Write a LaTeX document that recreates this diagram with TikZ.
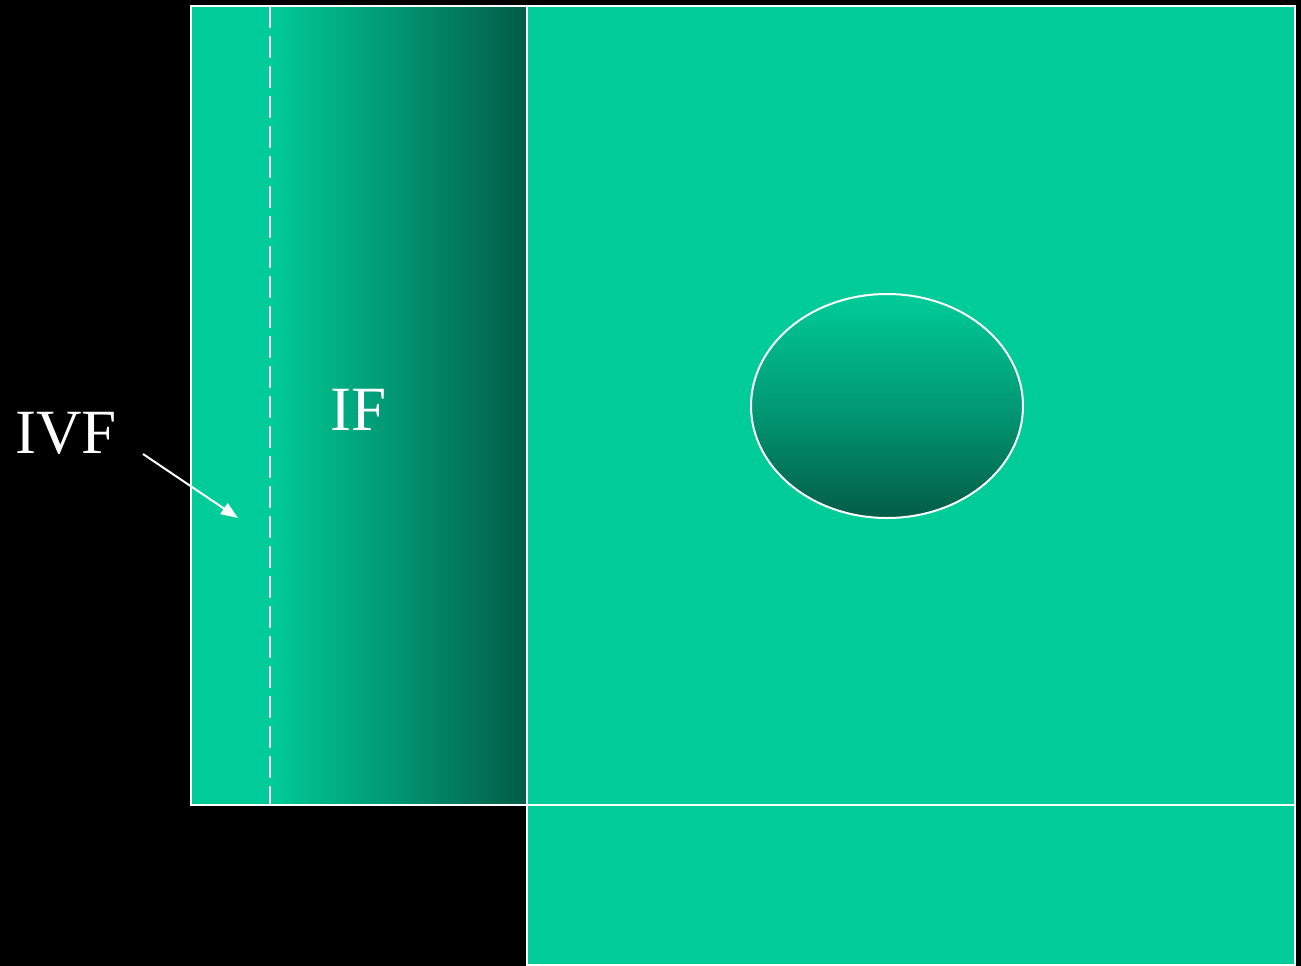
\documentclass[tikz,border=0pt]{standalone}
\usepackage{fontspec}
\setmainfont{Liberation Serif}
\usetikzlibrary{arrows.meta,positioning}
\begin{document}
\begin{tikzpicture}[x=1pt,y=-1pt,>={Triangle[length=17pt,width=13pt]},
  edge/.style={draw=white,line width=2pt},
  lbl/.style={text=white,font=\fontsize{63}{70}\selectfont,inner sep=0pt},
  pointer/.style={->,draw=white,fill=white,line width=2pt}]
\definecolor{cellgreen}{RGB}{0,204,153}
\definecolor{celldark}{RGB}{2,92,71}
\fill[black] (0,0) rectangle (1301,966);
\fill[cellgreen] (191,6) rectangle (270,805);
\shade[left color=cellgreen,right color=celldark] (270,6) rectangle (527,805);
\fill[cellgreen] (527,6) rectangle (1295,965);
\draw[edge] (191,6) rectangle (527,805);
\draw[edge] (527,6) rectangle (1295,805);
\draw[edge] (527,805) rectangle (1295,965);
\draw[white,line width=2pt,dash pattern=on 22pt off 8pt] (270,6) -- (270,805);
\shade[top color=cellgreen,bottom color=celldark,middle color=cellgreen!55!celldark] (887,406) ellipse [x radius=136,y radius=112];
\draw[edge] (887,406) ellipse [x radius=136,y radius=112];
\node[lbl] (if) at (359,410) {IF};
\node[lbl] (ivf) at (66,433) {IVF};
\coordinate (ivftail) at (143,454);
\coordinate (ivfhead) at (238,518);
\draw[pointer] (ivftail) -- (ivfhead);
\end{tikzpicture}
\end{document}
